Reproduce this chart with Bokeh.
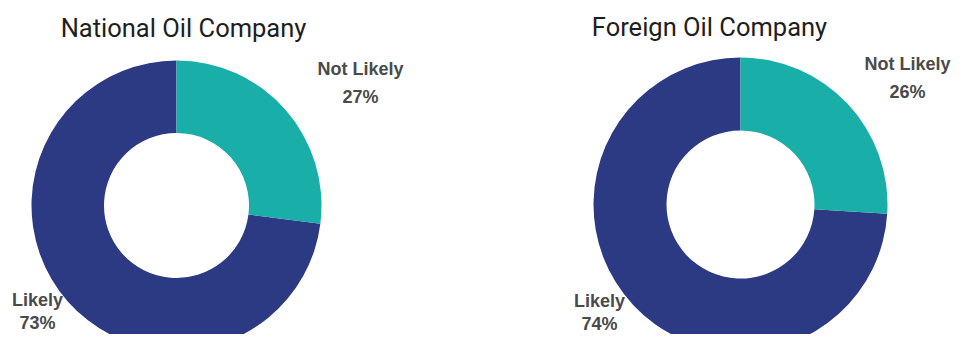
from bokeh.plotting import figure
from bokeh.models import Range1d
from bokeh.core.properties import value
from bokeh.embed import file_html
from bokeh.resources import INLINE
import math

# ---- data ----
titles = ["National Oil Company", "Foreign Oil Company"]
categories = ["Likely", "Not Likely"]
likely = [73, 74]
not_likely = [27, 26]
colors = ["#2c3a84", "#1aaea9"]

# ---- layout (picture pixel coordinates; y measured from top) ----
W, H = 954, 334
centers = [(176, 205), (740, 204)]
outer_r = [145, 147]
inner_r = [72.5, 74]
title_pos = [(183, 27), (709, 26)]
notlikely_pos = [(360, 68), (907, 63)]
likely_pos = [(37, 299), (599, 300)]
line_gap = 23

def Y(y_img):
    return H - y_img

p = figure(width=W, height=H, output_backend="svg", toolbar_location=None,
           x_range=Range1d(0, W), y_range=Range1d(0, H),
           min_border=0)
p.axis.visible = False
p.grid.visible = False
p.outline_line_color = None
p.background_fill_color = "white"
p.border_fill_color = "white"

for i in range(2):
    total = likely[i] + not_likely[i]
    top = math.pi / 2
    nl_span = 2 * math.pi * not_likely[i] / total
    cx, cy = centers[i]
    # Likely: from 12 o'clock anticlockwise round to the Not Likely boundary
    p.annular_wedge(x=[cx], y=[Y(cy)], inner_radius=inner_r[i], outer_radius=outer_r[i],
                    inner_radius_units="screen", outer_radius_units="screen",
                    start_angle=[top], end_angle=[top - nl_span], direction="anticlock",
                    fill_color=colors[0], line_color=None)
    # Not Likely: clockwise from 12 o'clock
    p.annular_wedge(x=[cx], y=[Y(cy)], inner_radius=inner_r[i], outer_radius=outer_r[i],
                    inner_radius_units="screen", outer_radius_units="screen",
                    start_angle=[top - nl_span], end_angle=[top], direction="anticlock",
                    fill_color=colors[1], line_color=None)

    tx, ty = title_pos[i]
    p.text(x=[tx], y=[Y(ty)], text=[titles[i]], text_font=value("Roboto"),
           text_font_size="25.5px", text_color="#1e1e1e",
           text_align="center", text_baseline="middle")

    nx, ny = notlikely_pos[i]
    p.text(x=[nx, nx], y=[Y(ny), Y(ny + 28)],
           text=[categories[1], f"{not_likely[i]}%"],
           text_font=value("Liberation Sans"), text_font_style="bold",
           text_font_size="18px", text_color="#4a4a4a",
           text_align="center", text_baseline="middle")

    lx, ly = likely_pos[i]
    p.text(x=[lx, lx], y=[Y(ly), Y(ly + line_gap)],
           text=[categories[0], f"{likely[i]}%"],
           text_font=value("Liberation Sans"), text_font_style="bold",
           text_font_size="18px", text_color="#4a4a4a",
           text_align="center", text_baseline="middle")

open("out.html", "w").write(file_html(p, INLINE))
